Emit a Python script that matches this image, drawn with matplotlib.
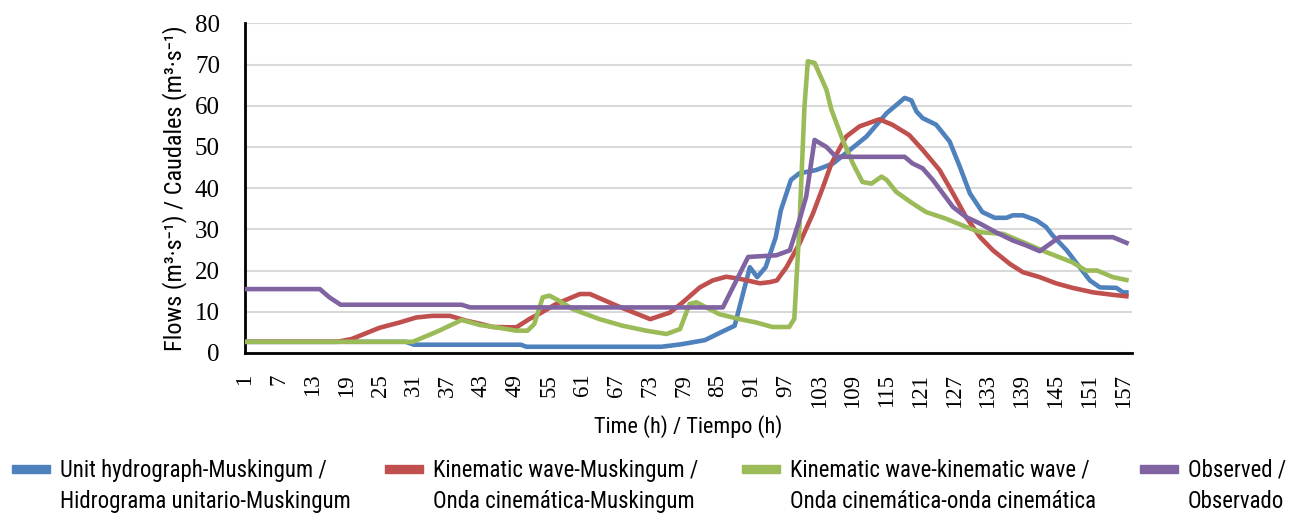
import matplotlib
matplotlib.use("Agg")
import matplotlib.pyplot as plt
from matplotlib import font_manager
from matplotlib.patches import Rectangle

# fonts: serif numbers, narrow sans for titles (use a condensed face if one exists)
fonts = font_manager.fontManager.ttflist
narrow = None
for want in ['Roboto Condensed', 'Liberation Sans Narrow', 'Arial Narrow', 'Open Sans Condensed']:
    if any(f.name == want for f in fonts):
        narrow = want
        break
if narrow is None:
    cond = [f.name for f in fonts if 'ondensed' in f.name or 'Narrow' in f.name]
    narrow = cond[0] if cond else 'Liberation Sans'
sans = [narrow, 'DejaVu Sans']
serif = ['Liberation Serif', 'DejaVu Serif']
k = 1.0 if narrow != 'Liberation Sans' else 0.88

# Unit hydrograph-Muskingum
uh_h = [1, 29.6, 31, 50, 51, 75, 78.5, 82.7, 86.3, 88, 90.7, 92, 93.5, 95.3, 96.2, 98, 99.5,
        102.5, 105.5, 108.5, 111.4, 115, 116.4, 118.2, 119.4, 120.3, 121.4, 123.8, 126.2, 128,
        129.8, 132, 134.2, 136.3, 137.4, 139.2, 141.6, 143.3, 144.5, 147, 149.3, 151.1, 152.9,
        155.8, 157, 158]
uh_q = [2.7, 2.7, 2.0, 2.0, 1.5, 1.5, 2.1, 3.1, 5.5, 6.6, 20.8, 18.4, 20.8, 28.1, 34.6, 42, 43.6,
        44.4, 46, 49.3, 52.5, 58.2, 59.8, 61.9, 61.3, 58.6, 57, 55.4, 51.3, 45.2,
        38.7, 34.2, 32.8, 32.8, 33.4, 33.4, 32.2, 30.6, 28.5, 24.9, 20.8, 17.6, 15.9,
        15.8, 14.7, 14.7]

# Kinematic wave-Muskingum
kwm_h = [1, 17.4, 20, 24.9, 28.5, 31.4, 34.3, 37.4, 40.4, 42.7, 45, 49.2, 51.6, 53.3, 56.3, 60.5,
         62.3, 67, 73, 76.5, 78.8, 81.8, 84.1, 86.5, 88.9, 92.5, 94.3, 95.5, 97.2, 99.5, 101.9,
         103.7, 105.2, 107.8, 110.2, 113.7, 116, 119, 121.4, 124.4, 126.8, 129.1, 131.6, 133.9,
         136.9, 139.2, 142.2, 145.1, 148, 151.7, 155.2, 158]
kwm_q = [2.7, 2.7, 3.4, 6.1, 7.4, 8.6, 9.0, 9.0, 7.8, 7.1, 6.3, 6.2, 8.3, 9.5, 11.9, 14.3,
         14.3, 11.5, 8.2, 9.8, 12.3, 15.9, 17.6, 18.5, 18.0, 16.9, 17.2, 17.6, 20.8, 26.5, 33.8,
         40.3, 46, 52.5, 55, 56.7, 55.4, 52.9, 49.3, 44.4, 38.7, 33, 28.1, 24.9,
         21.6, 19.6, 18.4, 16.9, 15.8, 14.7, 14.1, 13.7]

# Kinematic wave-kinematic wave
kwk_h = [1, 30.8, 34.3, 35.5, 39.5, 42.7, 45.7, 49.2, 51.2, 52.4, 53.9, 55.1, 56.5, 59.3, 64,
         68.1, 72.3, 75.9, 78.3, 80, 81.2, 85.3, 88.9, 91.8, 94.7, 97.7, 98.6, 99.5, 100.4, 101,
         102.2, 104.3, 105.2, 107.2, 109, 110.7, 112.3, 114.1, 115, 116.7, 119.6, 122, 125.5,
         129.1, 131.6, 135.7, 139.2, 143.3, 148, 150.4, 152.4, 155.2, 158]
kwk_q = [2.7, 2.7, 4.7, 5.4, 8.0, 6.8, 6.2, 5.4, 5.4, 7.0, 13.5, 13.9, 12.9, 10.6, 8.2,
         6.6, 5.4, 4.6, 5.8, 11.9, 12.3, 9.4, 8.2, 7.4, 6.3, 6.3, 8.3, 30.6, 59.8, 70.8,
         70.4, 63.9, 59, 51.7, 46, 41.5, 41.1, 42.8, 42, 39.1, 36.3, 34.2, 32.6,
         30.6, 29.3, 28.9, 26.9, 24.5, 22, 20, 20, 18.4, 17.6]

# Observed
obs_h = [1, 14.3, 16, 18, 39.5, 41, 85.9, 90.4, 95.4, 97.8, 99.5, 100.7, 102.2, 104.3, 106,
         118.2, 119.6, 121.4, 123.2, 125, 126.8, 129.1, 131.6, 134.4, 137.4, 139.8, 142.2,
         145.7, 155.2, 158]
obs_q = [15.5, 15.5, 13.5, 11.7, 11.7, 11.05, 11.05, 23.3, 23.7, 24.9, 32.2, 37.9, 51.7, 50,
         47.6, 47.6, 46, 44.8, 42, 38.7, 35.4, 33, 31.4, 29.3, 27.3, 26.1, 24.7,
         28.1, 28.1, 26.5]

labels = [('Unit hydrograph-Muskingum /', 'Hidrograma unitario-Muskingum'),
          ('Kinematic wave-Muskingum /', 'Onda cinemática-Muskingum'),
          ('Kinematic wave-kinematic wave /', 'Onda cinemática-onda cinemática'),
          ('Observed /', 'Observado')]
colors = ['#4F81BD', '#C0504D', '#9BBB59', '#8064A2']
xticks = list(range(1, 158, 6))

fig = plt.figure(figsize=(12.96, 5.13), dpi=100)
ax = fig.add_axes([0.189, 0.312, 0.6845, 0.6425])

series = [(uh_h, uh_q), (kwm_h, kwm_q), (kwk_h, kwk_q), (obs_h, obs_q)]
for (h, q), c in zip(series, colors):
    ax.plot(h, q, color=c, lw=3.3, solid_joinstyle='round', solid_capstyle='butt', zorder=3)

ax.set_xlim(1, 158.6)
ax.set_ylim(0, 80)
ax.set_yticks(range(0, 81, 10))
ax.set_xticks(xticks)
ax.set_xticklabels([str(t) for t in xticks], rotation=90, family=serif, fontsize=16.5)
for t in ax.get_yticklabels():
    t.set_family(serif)
    t.set_fontsize(18)
ax.tick_params(axis='y', length=0, pad=18)
ax.tick_params(axis='x', length=0, pad=15)
ax.grid(axis='y', color='#D9D9D9', lw=1.5)
ax.set_axisbelow(True)
for s in ['top', 'right']:
    ax.spines[s].set_visible(False)
for s in ['left', 'bottom']:
    ax.spines[s].set_linewidth(2)
    ax.spines[s].set_color('black')

ax.set_ylabel('Flows (m³·s⁻¹) / Caudales (m³·s⁻¹)', family=sans, fontsize=17.5 * k, labelpad=6)
ax.set_xlabel('Time (h) / Tiempo (h)', family=sans, fontsize=16 * k, labelpad=5)

# legend drawn like the spreadsheet one: swatch beside the first text line
leg_x = [12, 385, 742, 1140]
for x0, (l1, l2), c in zip(leg_x, labels, colors):
    fig.patches.append(Rectangle((x0 / 1296, 1 - 473 / 513), 38 / 1296, 8 / 513,
                                 transform=fig.transFigure, color=c))
    fig.text((x0 + 48) / 1296, 1 - 477 / 513, l1, family=sans, fontsize=16.4 * k,
             va='baseline', ha='left')
    fig.text((x0 + 48) / 1296, 1 - 508 / 513, l2, family=sans, fontsize=16.4 * k,
             va='baseline', ha='left')

fig.savefig('out.png', dpi=100)
